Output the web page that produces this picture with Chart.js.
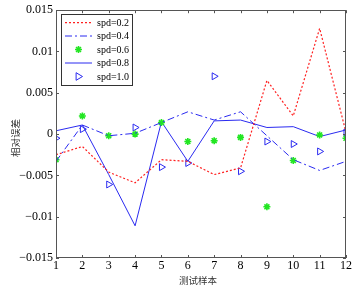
<!DOCTYPE html>
<html><head><meta charset="utf-8">
<script src="https://cdn.jsdelivr.net/npm/chart.js@4/dist/chart.umd.min.js"></script>
<style>html,body{margin:0;padding:0;background:#fff;}canvas{display:block;}</style>
</head><body>
<canvas id="c" width="356" height="286"></canvas>
<script>
const samples = [1,2,3,4,5,6,7,8,9,10,11,12];
const spd02 = [-0.0025,-0.0015,-0.0046,-0.0059,-0.0031,-0.0033,-0.0049,-0.0041,0.0065,0.0022,0.0128,0.0002];
const spd04 = [-0.0033,0.0011,-0.0002,0.0001,0.0014,0.0027,0.0017,0.0027,-0.0002,-0.0031,-0.0044,-0.0033];
const spd06 = [-0.0031,0.0022,-0.0002,0.0000,0.0014,-0.0009,-0.0008,-0.0004,-0.0088,-0.0032,-0.0001,-0.0005];
const spd08 = [0.0004,0.0011,-0.0049,-0.0111,0.0015,-0.0033,0.0016,0.0017,0.0008,0.0009,-0.0003,0.0005];
const spd10 = [-0.0005,0.0006,-0.0061,0.0008,-0.0040,-0.0035,0.0070,-0.0045,-0.0009,-0.0012,-0.0021,0.0002];
const seriesNames = ['spd=0.2','spd=0.4','spd=0.6','spd=0.8','spd=1.0'];
const yTickValues = [0.015,0.01,0.005,0,-0.005,-0.01,-0.015];
const yTickLabels = ['0.015','0.01','0.005','0','\u22120.005','\u22120.01','\u22120.015'];
const xTitle = '测试样本';
const yTitle = '相对误差';

const pts = arr => arr.map((v,i)=>({x:samples[i], y:v}));
const RED='#ff2020', BLUE='#2a2af0', GREEN='#22e622';

const frame = {
  id:'frame',
  afterDraw(chart){
    const ctx = chart.ctx, a = chart.chartArea;
    const xs = chart.scales.x, ys = chart.scales.y;
    ctx.save();
    ctx.strokeStyle='#555'; ctx.lineWidth=1;
    ctx.strokeRect(Math.round(a.left)+0.5, Math.round(a.top)+0.5, Math.round(a.right-a.left)-1, Math.round(a.bottom-a.top)-1);
    const tl=3;
    ctx.beginPath();
    samples.forEach(v=>{
      const px=Math.round(xs.getPixelForValue(v))+0.5;
      ctx.moveTo(px,a.bottom); ctx.lineTo(px,a.bottom-tl);
      ctx.moveTo(px,a.top); ctx.lineTo(px,a.top+tl);
    });
    yTickValues.forEach(v=>{
      const py=Math.round(ys.getPixelForValue(v))+0.5;
      ctx.moveTo(a.left,py); ctx.lineTo(a.left+tl,py);
      ctx.moveTo(a.right,py); ctx.lineTo(a.right-tl,py);
    });
    ctx.stroke();
    // titles
    ctx.fillStyle='#333';
    ctx.font='9.5px "Noto Sans CJK SC"';
    ctx.textAlign='center'; ctx.textBaseline='middle';
    ctx.fillText(xTitle,198,280);
    ctx.save();
    ctx.translate(15,138); ctx.rotate(-Math.PI/2);
    ctx.fillText(yTitle,0,0);
    ctx.restore();
    // legend
    const bx=61.5, by=14.5, bw=71, bh=71;
    ctx.fillStyle='#fff'; ctx.fillRect(bx,by,bw,bh);
    ctx.strokeStyle='#333'; ctx.strokeRect(bx,by,bw,bh);
    const rowsY=[22.7,36,49.5,63,76.5];
    const sx0=65, sx1=92, cx=78.5;
    ctx.font='10px "Liberation Serif"'; ctx.textAlign='left'; ctx.fillStyle='#000';
    chart.data.datasets.forEach((ds,i)=>{
      const y=rowsY[i];
      ctx.save();
      if(ds.showLine!==false){
        ctx.strokeStyle=ds.borderColor; ctx.lineWidth=ds.borderWidth;
        ctx.setLineDash(ds.borderDash||[]);
        ctx.beginPath(); ctx.moveTo(sx0,y); ctx.lineTo(sx1,y); ctx.stroke();
      } else if(ds.pointStyle==='star'){
        ctx.strokeStyle=ds.pointBorderColor; ctx.lineWidth=ds.pointBorderWidth;
        const r=ds.pointRadius;
        ctx.beginPath();
        ctx.moveTo(cx-r,y); ctx.lineTo(cx+r,y); ctx.moveTo(cx,y-r); ctx.lineTo(cx,y+r);
        const d=r*0.7;
        ctx.moveTo(cx-d,y-d); ctx.lineTo(cx+d,y+d); ctx.moveTo(cx-d,y+d); ctx.lineTo(cx+d,y-d);
        ctx.stroke();
      } else {
        ctx.strokeStyle=ds.pointBorderColor; ctx.lineWidth=ds.pointBorderWidth;
        const r=ds.pointRadius;
        ctx.beginPath();
        ctx.moveTo(cx+r,y); ctx.lineTo(cx-r*0.6,y-r*0.95); ctx.lineTo(cx-r*0.6,y+r*0.95); ctx.closePath();
        ctx.stroke();
      }
      ctx.restore();
      ctx.fillStyle='#000';
      ctx.fillText(seriesNames[i],97,y+0.5);
    });
    ctx.restore();
  }
};

new Chart(document.getElementById('c'),{
  type:'line',
  data:{datasets:[
    {label:seriesNames[0],data:pts(spd02),borderColor:RED,borderWidth:1.2,borderDash:[2,2],pointRadius:0,fill:false},
    {label:seriesNames[1],data:pts(spd04),borderColor:BLUE,borderWidth:1,borderDash:[7,3,2,3],pointRadius:0,fill:false},
    {label:seriesNames[2],data:pts(spd06),showLine:false,pointStyle:'star',pointRadius:3.5,pointBorderColor:GREEN,pointBackgroundColor:GREEN,pointBorderWidth:1.6,borderColor:GREEN},
    {label:seriesNames[3],data:pts(spd08),borderColor:BLUE,borderWidth:1,pointRadius:0,fill:false},
    {label:seriesNames[4],data:pts(spd10),showLine:false,pointStyle:'triangle',pointRotation:90,pointRadius:4,pointBorderColor:BLUE,pointBackgroundColor:'rgba(0,0,0,0)',pointBorderWidth:1,borderColor:BLUE}
  ]},
  options:{
    responsive:false, animation:false, devicePixelRatio:1,
    layout:{padding:{top:9,right:10,left:0,bottom:0}},
    plugins:{legend:{display:false},tooltip:{enabled:false}},
    elements:{line:{tension:0}},
    scales:{
      x:{type:'linear',min:1,max:12,
        grid:{display:false,drawTicks:false},border:{display:false},
        ticks:{stepSize:1,padding:1,color:'#000',font:{family:'Liberation Serif',size:12},maxRotation:0,autoSkip:false},
        afterFit(s){s.height=28;}},
      y:{type:'linear',min:-0.015,max:0.015,
        grid:{display:false,drawTicks:false},border:{display:false},
        ticks:{stepSize:0.005,padding:3,color:'#000',font:{family:'Liberation Serif',size:12},
          callback:(v)=>{const i=yTickValues.findIndex(t=>Math.abs(t-v)<1e-9);return i>=0?yTickLabels[i]:'';}},
        afterFit(s){s.width=56;}}
    }
  },
  plugins:[frame]
});
</script>
</body></html>
